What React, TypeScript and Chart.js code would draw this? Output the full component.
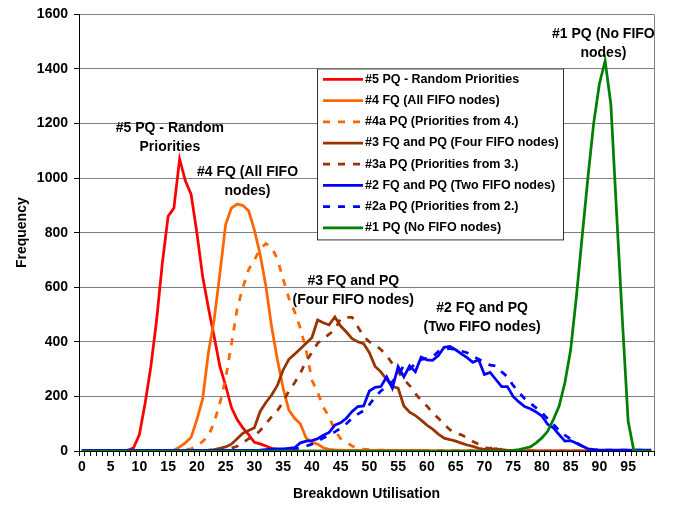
import React, { useEffect, useRef } from 'react';
import { Chart, registerables } from 'chart.js';

Chart.register(...registerables);

const FONT_FAMILY = '"Liberation Sans", Arial, sans-serif';

// Breakdown utilisation categories 0..99
const categories: string[] = Array.from({ length: 100 }, (_, i) => String(i));
const tickStep = 5;

const red5 = [
  0, 0, 0, 0, 0, 0, 0, 0, 3, 12,
  60, 175, 310, 480, 690, 860, 890, 1070, 990, 940,
  800, 640, 525, 420, 310, 240, 160, 115, 85, 60,
  32, 26, 18, 10, 6, 4, 2, 1, 0, 0,
  0, 0, 0, 0, 0, 0, 0, 0, 0, 0,
  0, 0, 0, 0, 0, 0, 0, 0, 0, 0,
  0, 0, 0, 0, 0, 0, 0, 0, 0, 0,
  0, 0, 0, 0, 0, 0, 0, 0, 0, 0,
  0, 0, 0, 0, 0, 0, 0, 0, 0, 0,
  0, 0, 0, 0, 0, 0, 0, 0, 0, 0,
];

const orange4 = [
  0, 0, 0, 0, 0, 0, 0, 0, 0, 0,
  0, 0, 0, 0, 0, 0, 3, 15, 30, 50,
  115, 190, 360, 480, 650, 830, 890, 905, 900, 880,
  810, 720, 605, 455, 335, 230, 150, 120, 100, 47,
  33, 25, 12, 6, 4, 3, 2, 2, 2, 2,
  2, 2, 2, 2, 2, 2, 2, 2, 2, 2,
  0, 0, 0, 0, 0, 0, 0, 0, 0, 0,
  0, 0, 0, 0, 0, 0, 0, 0, 0, 0,
  0, 0, 0, 0, 0, 0, 0, 0, 0, 0,
  0, 0, 0, 0, 0, 0, 0, 0, 0, 0,
];

const orange4a = [
  0, 0, 0, 0, 0, 0, 0, 0, 0, 0,
  0, 0, 0, 0, 0, 0, 0, 2, 5, 8,
  18, 35, 55, 105, 175, 265, 390, 520, 600, 665,
  700, 740, 760, 745, 705, 630, 560, 510, 450, 370,
  260, 215, 160, 125, 75, 45, 33, 18, 10, 7,
  5, 4, 3, 3, 2, 2, 2, 2, 2, 2,
  2, 2, 2, 2, 2, 2, 2, 2, 2, 2,
  2, 2, 2, 2, 2, 2, 2, 2, 2, 2,
  0, 0, 0, 0, 0, 0, 0, 0, 0, 0,
  0, 0, 0, 0, 0, 0, 0, 0, 0, 0,
];

const brown3 = [
  0, 0, 0, 0, 0, 0, 0, 0, 0, 0,
  0, 0, 0, 0, 0, 0, 0, 0, 0, 0,
  0, 2, 3, 5, 10, 15, 25, 45, 65, 75,
  85, 145, 178, 205, 240, 297, 336, 355, 375, 395,
  415, 480, 470, 462, 491, 458, 436, 412, 400, 393,
  360, 310, 290, 262, 236, 230, 165, 142, 130, 113,
  95, 80, 62, 47, 42, 36, 29, 22, 17, 10,
  6, 6, 9, 3, 2, 2, 1, 0, 0, 0,
  0, 0, 0, 0, 0, 0, 0, 0, 0, 0,
  0, 0, 0, 0, 0, 0, 0, 0, 0, 0,
];

const brown3a = [
  0, 0, 0, 0, 0, 0, 0, 0, 0, 0,
  0, 0, 0, 0, 0, 0, 0, 0, 0, 0,
  0, 1, 2, 3, 4, 6, 10, 17, 30, 45,
  55, 75, 100, 125, 148, 180, 220, 250, 285, 330,
  360, 395, 412, 428, 445, 485, 490, 490, 455, 420,
  400, 388, 372, 350, 320, 290, 262, 240, 210, 185,
  165, 140, 120, 98, 78, 65, 59, 48, 35, 25,
  12, 10, 15, 5, 3, 2, 2, 0, 0, 0,
  0, 0, 0, 0, 0, 0, 0, 0, 0, 0,
  0, 0, 0, 0, 0, 0, 0, 0, 0, 0,
];

const blue2 = [
  2, 2, 2, 2, 2, 2, 2, 2, 2, 2,
  2, 2, 2, 2, 2, 2, 2, 2, 2, 2,
  2, 2, 2, 2, 2, 2, 2, 2, 2, 2,
  2, 3, 5, 7, 8, 8, 10, 12, 30, 36,
  38, 45, 58, 68, 95, 103, 120, 145, 163, 165,
  220, 233, 236, 272, 230, 309, 272, 312, 290, 344,
  334, 332, 350, 380, 383, 371, 356, 342, 325, 334,
  280, 288, 262, 236, 236, 200, 180, 163, 155, 143,
  128, 98, 85, 60, 36, 38, 28, 18, 8, 5,
  3, 3, 3, 3, 3, 3, 3, 3, 3, 3,
];

const blue2a = [
  2, 2, 2, 2, 2, 2, 2, 2, 2, 2,
  2, 2, 2, 2, 2, 2, 2, 2, 2, 2,
  2, 2, 2, 2, 2, 2, 2, 2, 2, 2,
  2, 2, 2, 3, 4, 5, 6, 8, 12, 18,
  25, 35, 48, 58, 70, 83, 100, 120, 135, 148,
  170, 198, 220, 236, 255, 275, 315, 300, 320, 335,
  340, 345, 365, 372, 376, 370, 366, 360, 348, 336,
  325, 315, 312, 290, 272, 240, 215, 192, 175, 158,
  140, 118, 98, 75, 58, 44, 30, 18, 8, 5,
  3, 3, 3, 3, 3, 3, 3, 3, 3, 3,
];

const green1 = [
  0, 0, 0, 0, 0, 0, 0, 0, 0, 0,
  0, 0, 0, 0, 0, 0, 0, 0, 0, 0,
  0, 0, 0, 0, 0, 0, 0, 0, 0, 0,
  0, 0, 0, 0, 0, 0, 0, 0, 0, 0,
  0, 0, 0, 0, 0, 0, 0, 0, 0, 0,
  0, 0, 0, 0, 0, 0, 0, 0, 0, 0,
  0, 0, 0, 0, 0, 0, 0, 0, 0, 0,
  0, 0, 0, 0, 0, 2, 5, 10, 15, 30,
  48, 72, 115, 165, 250, 370, 565, 785, 1000, 1200,
  1345, 1430, 1270, 870, 480, 110, 0, 0, 0, 0,
];

const seriesLabels = [
  '#5 PQ - Random Priorities',
  '#4 FQ (All FIFO nodes)',
  '#4a PQ (Priorities from 4.)',
  '#3 FQ and PQ (Four FIFO nodes)',
  '#3a PQ (Priorities from 3.)',
  '#2 FQ and PQ (Two FIFO nodes)',
  '#2a PQ (Priorities from 2.)',
  '#1 PQ (No FIFO nodes)',
];
const seriesData = [red5, orange4, orange4a, brown3, brown3a, blue2, blue2a, green1];
const seriesColors = ['#FF0000', '#FF6600', '#FF6600', '#993300', '#993300', '#0000FF', '#0000FF', '#008000'];
const seriesDashed = [false, false, true, false, true, false, true, false];

// In-chart labels, anchored at (category, frequency)
const annotations = [
  { lines: ['#5 PQ - Random', 'Priorities'], x: 15.3, y: 1183 },
  { lines: ['#4 FQ (All FIFO', 'nodes)'], x: 28.8, y: 1023 },
  { lines: ['#3 FQ and PQ', '(Four FIFO nodes)'], x: 47.2, y: 623 },
  { lines: ['#2 FQ and PQ', '(Two FIFO nodes)'], x: 69.6, y: 523 },
  { lines: ['#1 PQ (No FIFO', 'nodes)'], x: 90.7, y: 1526 },
];

const DASH = [7, 8];
const LINE_W = 2.75;

const annotationPlugin = {
  id: 'annotationText',
  afterDatasetsDraw(chart: any) {
    const { ctx, scales } = chart;
    ctx.save();
    ctx.font = `bold 14px ${FONT_FAMILY}`;
    ctx.fillStyle = '#000';
    ctx.textAlign = 'center';
    ctx.textBaseline = 'middle';
    annotations.forEach((a) => {
      const px = scales.x.getPixelForValue(a.x);
      const py = scales.y.getPixelForValue(a.y);
      a.lines.forEach((ln, i) => ctx.fillText(ln, px, py + i * 19));
    });
    ctx.restore();
  },
};

const frameAndLegendPlugin = {
  id: 'frameAndLegend',
  beforeDatasetsDraw(chart: any) {
    const { ctx, chartArea } = chart;
    ctx.save();
    ctx.strokeStyle = '#808080';
    ctx.lineWidth = 1;
    ctx.beginPath();
    ctx.moveTo(Math.round(chartArea.right) + 0.5, chartArea.top);
    ctx.lineTo(Math.round(chartArea.right) + 0.5, chartArea.bottom);
    ctx.stroke();
    ctx.restore();
  },
  afterDraw(chart: any) {
    const { ctx, chartArea } = chart;
    const bx = chartArea.left + 238;
    const by = chartArea.top + 54;
    const bw = 246;
    const rowH = 21.2;
    const bh = 171;
    ctx.save();
    ctx.fillStyle = '#fff';
    ctx.fillRect(bx, by, bw, bh);
    ctx.strokeStyle = '#333';
    ctx.lineWidth = 1;
    ctx.strokeRect(bx + 0.5, by + 0.5, bw, bh);
    ctx.font = `bold 12.5px ${FONT_FAMILY}`;
    ctx.textAlign = 'left';
    ctx.textBaseline = 'middle';
    chart.data.datasets.forEach((ds: any, i: number) => {
      const cy = by + 11 + i * rowH;
      ctx.strokeStyle = ds.borderColor;
      ctx.lineWidth = LINE_W;
      ctx.setLineDash(ds.borderDash || []);
      ctx.beginPath();
      ctx.moveTo(bx + 6, cy);
      ctx.lineTo(bx + 46, cy);
      ctx.stroke();
      ctx.setLineDash([]);
      ctx.fillStyle = '#000';
      ctx.fillText(ds.label, bx + 48, cy);
    });
    ctx.restore();
  },
};

export default function App() {
  const canvasRef = useRef<HTMLCanvasElement | null>(null);

  useEffect(() => {
    if (!canvasRef.current) return;
    const font = { family: FONT_FAMILY, size: 14, weight: 'bold' as const };
    const chart = new Chart(canvasRef.current, {
      type: 'line',
      data: {
        labels: categories,
        datasets: seriesData.map((d, i) => ({
          label: seriesLabels[i],
          data: d,
          borderColor: seriesColors[i],
          backgroundColor: seriesColors[i],
          borderWidth: LINE_W,
          borderDash: seriesDashed[i] ? DASH : [],
          pointRadius: 0,
          tension: 0,
          fill: false,
          order: -i,
        })),
      },
      options: {
        animation: false,
        responsive: false,
        maintainAspectRatio: false,
        layout: { padding: { left: 0, right: 24, top: 13, bottom: 0 } },
        plugins: { legend: { display: false }, tooltip: { enabled: false } },
        scales: {
          x: {
            type: 'category',
            offset: true,
            grid: {
              display: true,
              drawOnChartArea: false,
              drawTicks: true,
              tickLength: 5,
              color: '#000',
              offset: true,
            },
            border: { display: true, color: '#000', width: 1 },
            ticks: {
              autoSkip: false,
              maxRotation: 0,
              minRotation: 0,
              padding: 3,
              color: '#000',
              font,
              callback: (_v: any, i: number) => (i % tickStep === 0 ? categories[i] : ''),
            },
            title: {
              display: true,
              text: 'Breakdown Utilisation',
              color: '#000',
              font,
              padding: { top: 0, bottom: 3 },
            },
            afterFit: (s: any) => {
              s.height = 55;
            },
          },
          y: {
            min: 0,
            max: 1600,
            ticks: {
              stepSize: 200,
              padding: 6,
              color: '#000',
              font,
              callback: (v: any) => String(v),
            },
            grid: { color: '#808080', tickLength: 5, tickColor: '#000', lineWidth: 1 },
            border: { display: true, color: '#000', width: 1 },
            title: {
              display: true,
              text: 'Frequency',
              color: '#000',
              font,
              padding: { top: 14, bottom: 0 },
            },
            afterFit: (s: any) => {
              s.width = 79;
            },
          },
        },
      },
      plugins: [frameAndLegendPlugin, annotationPlugin],
    } as any);
    return () => chart.destroy();
  }, []);

  return (
    <div style={{ position: 'fixed', left: 0, top: 0, width: 678, height: 506, background: '#fff' }}>
      <canvas ref={canvasRef} width={678} height={506} style={{ display: 'block' }} />
    </div>
  );
}
